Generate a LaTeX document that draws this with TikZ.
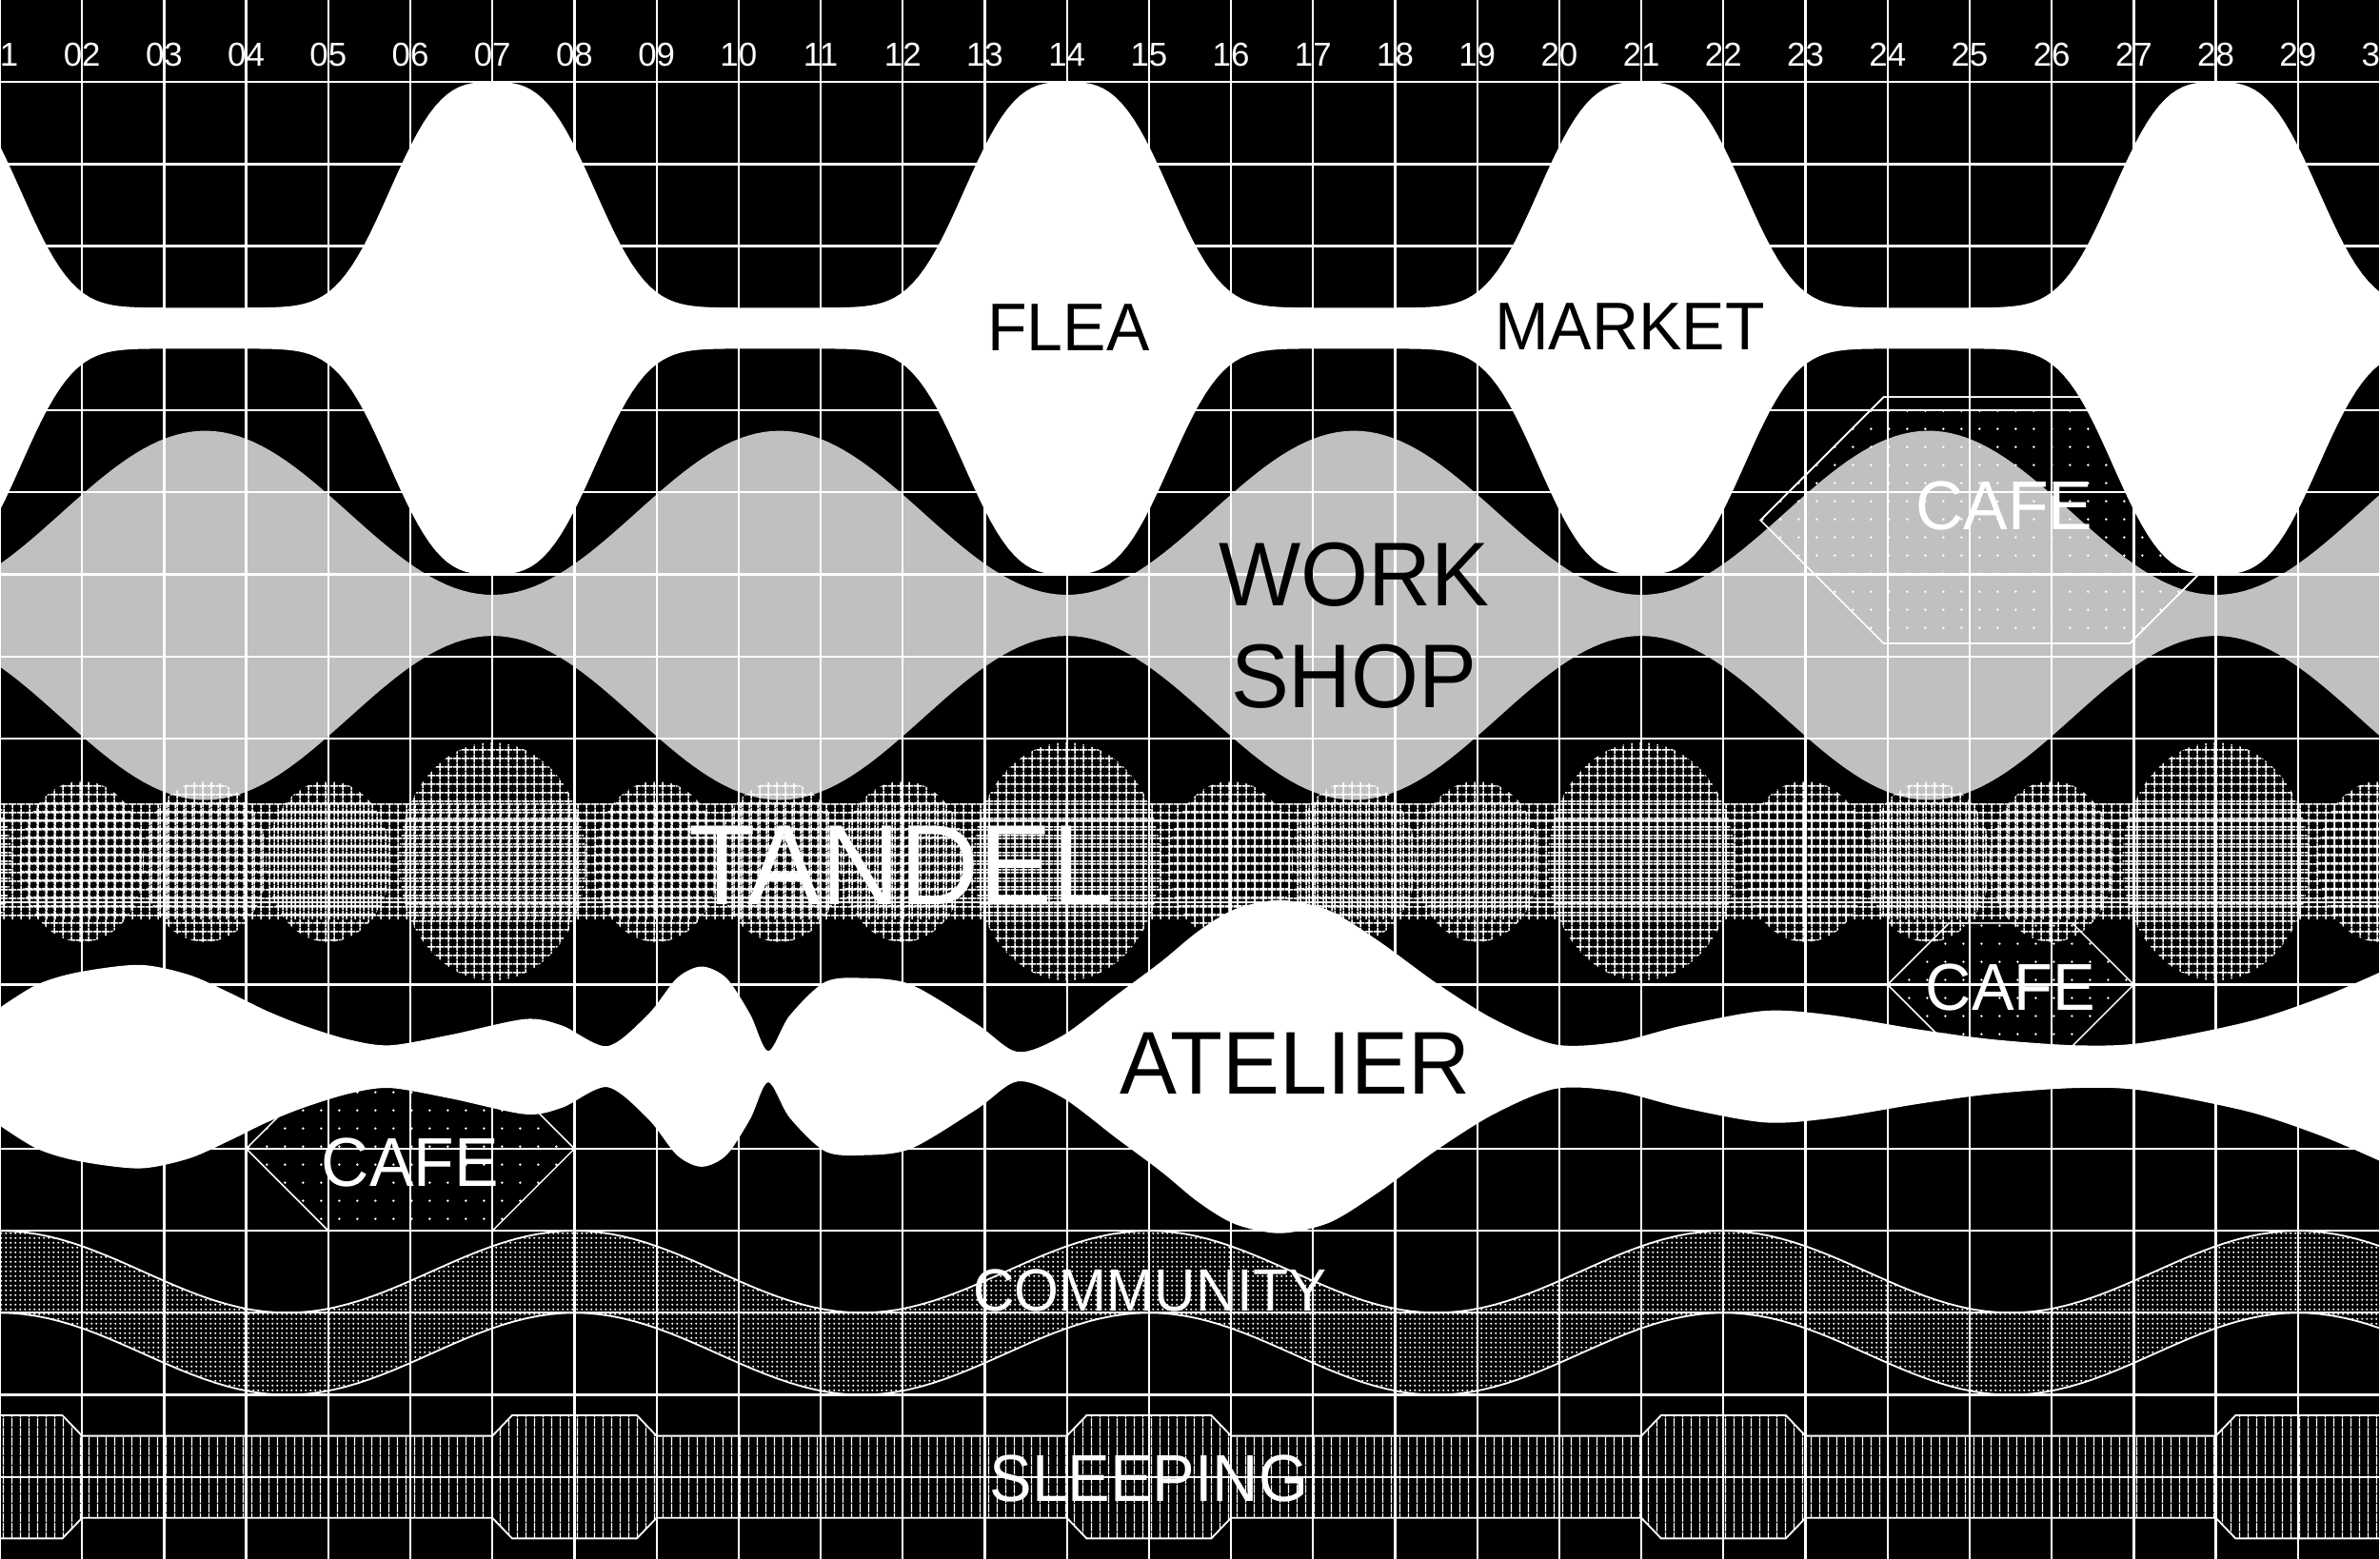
\documentclass[tikz,border=0pt]{standalone}
\usepackage{fontspec}
\setmainfont{Liberation Sans}
\usetikzlibrary{patterns}
\definecolor{wsgray}{RGB}{192,192,192}
\pgfdeclarepatternformonly{tgrid}{\pgfpointorigin}{\pgfqpoint{2.845pt}{2.845pt}}{\pgfqpoint{2.845pt}{2.845pt}}{%
  \pgfsetlinewidth{0.6pt}%
  \pgfpathmoveto{\pgfqpoint{0pt}{1.42pt}}\pgfpathlineto{\pgfqpoint{2.845pt}{1.42pt}}%
  \pgfpathmoveto{\pgfqpoint{1.42pt}{0pt}}\pgfpathlineto{\pgfqpoint{1.42pt}{2.845pt}}%
  \pgfusepath{stroke}}
\pgfdeclarepatternformonly{vlines}{\pgfpointorigin}{\pgfqpoint{3.13pt}{3.13pt}}{\pgfqpoint{3.13pt}{3.13pt}}{%
  \pgfsetlinewidth{0.5pt}%
  \pgfpathmoveto{\pgfqpoint{1.56pt}{0pt}}\pgfpathlineto{\pgfqpoint{1.56pt}{3.13pt}}%
  \pgfusepath{stroke}}
\pgfdeclarepatternformonly{fdots}{\pgfpointorigin}{\pgfqpoint{1.7pt}{1.7pt}}{\pgfqpoint{1.7pt}{1.7pt}}{%
  \pgfpathcircle{\pgfqpoint{0.85pt}{0.85pt}}{0.45pt}\pgfusepath{fill}}
\pgfdeclarepatternformonly{hdots}{\pgfpointorigin}{\pgfqpoint{6.4pt}{6.4pt}}{\pgfqpoint{6.4pt}{6.4pt}}{%
  \pgfpathcircle{\pgfqpoint{3.2pt}{3.2pt}}{0.45pt}\pgfusepath{fill}}
\begin{document}
\begin{tikzpicture}[x=1cm,y=-1cm,
  declare function={fq(\t)=abs(mod(\t+4.5,7)-3.5)/1.44; fg(\t)=exp(-fq(\t)*fq(\t)*fq(\t));},
  gl/.style={white,line width=0.75pt},
  hexshape/.style={draw=white,line width=0.5pt,pattern=hdots,pattern color=white},
  tg/.style={pattern=tgrid,pattern color=white},
  bt/.style={text=black,inner sep=0pt,xscale=0.96},
  wt/.style={text=white,inner sep=0pt,xscale=0.96},
  lab/.style={text=white,inner sep=0pt,font=\fontsize{11.5pt}{12pt}\selectfont}]
\useasboundingbox (0,0) rectangle (29,19);
\fill[black] (0,0) rectangle (29,19);

% WORKSHOP grey band
\fill[wsgray] plot[domain=0:29,samples=300] (\x,{6.25-cos(360*(\x-2.5)/7)})
  -- plot[domain=29:0,samples=300] (\x,{8.75+cos(360*(\x-2.5)/7)}) -- cycle;

% TANDEL hatched band
\fill[tg] (0,9.8) rectangle (29,11.2);
\foreach \c in {-1,6,13,20,27}
  \fill[tg] (\c,10.5) ellipse [x radius=1.14, y radius=1.45];
\foreach \c in {1,2.5,4,8,9.5,11,15,16.5,18,22,23.5,25,29}
  \fill[tg] (\c,10.5) ellipse [x radius=0.76, y radius=0.98];

% CAFE hexagons (dotted)
\path[hexshape] (21.45,6.34) -- (22.95,4.84) -- (25.95,4.84) -- (27.45,6.34) -- (25.95,7.84) -- (22.95,7.84) -- cycle;
\path[hexshape] (23,12) -- (23.75,11.25) -- (25.25,11.25) -- (26,12) -- (25.25,12.75) -- (23.75,12.75) -- cycle;
\path[hexshape] (3,14) -- (4,13) -- (6,13) -- (7,14) -- (6,15) -- (4,15) -- cycle;

% COMMUNITY ribbon
\fill[pattern=fdots,pattern color=white] plot[domain=0:29,samples=200] (\x,{15.5-0.5*cos(360*\x/7)})
  -- plot[domain=29:0,samples=200] (\x,{16.5-0.5*cos(360*\x/7)}) -- cycle;
\draw[white,line width=0.6pt] plot[domain=0:29,samples=200] (\x,{15.5-0.5*cos(360*\x/7)});
\draw[white,line width=0.6pt] plot[domain=0:29,samples=200] (\x,{16.5-0.5*cos(360*\x/7)});

% SLEEPING band
\path[pattern=vlines,pattern color=white,draw=white,line width=0.6pt]
  (0,17.25) -- (0.76,17.25) -- (1,17.5) -- (6,17.5) -- (6.24,17.25) -- (7.76,17.25) -- (8,17.5)
  -- (13,17.5) -- (13.24,17.25) -- (14.76,17.25) -- (15,17.5) -- (20,17.5) -- (20.24,17.25)
  -- (21.76,17.25) -- (22,17.5) -- (27,17.5) -- (27.24,17.25) -- (29,17.25) -- (29,18.75)
  -- (27.24,18.75) -- (27,18.5) -- (22,18.5) -- (21.76,18.75) -- (20.24,18.75) -- (20,18.5)
  -- (15,18.5) -- (14.76,18.75) -- (13.24,18.75) -- (13,18.5) -- (8,18.5) -- (7.76,18.75)
  -- (6.24,18.75) -- (6,18.5) -- (1,18.5) -- (0.76,18.75) -- (0,18.75) -- cycle;

% FLEA MARKET white band
\fill[white] plot[domain=0:29,samples=400] (\x,{3.75-2.75*fg(\x)})
  -- plot[domain=29:0,samples=400] (\x,{4.25+2.75*fg(\x)}) -- cycle;

% ATELIER white band
\fill[white] plot[smooth] coordinates {(0,12.28) (0.45,12.0) (0.95,11.85) (1.7,11.76) (2.3,11.88) (2.8,12.1) (3.25,12.32) (3.7,12.5) (4.25,12.67) (4.75,12.74) (5.5,12.61) (6.4,12.42) (6.85,12.5) (7.4,12.75) (7.9,12.36) (8.25,11.92) (8.55,11.78) (8.85,11.92) (9.14,12.36) (9.36,12.81) (9.62,12.38) (10.05,11.97) (10.5,11.92) (11.1,12.0) (11.9,12.48) (12.4,12.82) (12.95,12.62) (13.6,12.13) (14.15,11.72) (14.6,11.35) (15.05,11.08) (15.6,10.97) (16.2,11.1) (16.8,11.47) (17.5,11.98) (18.2,12.42) (18.95,12.73) (19.7,12.7) (20.5,12.5) (21.5,12.32) (22.3,12.37) (23.4,12.55) (24.3,12.67) (25.3,12.74) (26.1,12.71) (27.4,12.45) (28.3,12.15) (29,11.85)}
  -- plot[smooth] coordinates {(29,14.15) (28.3,13.85) (27.4,13.55) (26.1,13.29) (25.3,13.26) (24.3,13.33) (23.4,13.45) (22.3,13.63) (21.5,13.68) (20.5,13.5) (19.7,13.3) (18.95,13.27) (18.2,13.58) (17.5,14.02) (16.8,14.53) (16.2,14.9) (15.6,15.03) (15.05,14.92) (14.6,14.65) (14.15,14.28) (13.6,13.87) (12.95,13.38) (12.4,13.18) (11.9,13.52) (11.1,14.0) (10.5,14.08) (10.05,14.03) (9.62,13.62) (9.36,13.19) (9.14,13.64) (8.85,14.08) (8.55,14.22) (8.25,14.08) (7.9,13.64) (7.4,13.25) (6.85,13.5) (6.4,13.58) (5.5,13.39) (4.75,13.26) (4.25,13.33) (3.7,13.5) (3.25,13.68) (2.8,13.9) (2.3,14.12) (1.7,14.24) (0.95,14.15) (0.45,14.0) (0,13.72)} -- cycle;

% grid
\foreach \i in {0,...,29} \draw[gl] (\i,0) -- (\i,19);
\foreach \j in {1,...,18} \draw[gl] (0,\j) -- (29,\j);

% hexagon outline on top
\draw[white,line width=0.5pt] (21.45,6.34) -- (22.95,4.84) -- (25.95,4.84) -- (27.45,6.34) -- (25.95,7.84) -- (22.95,7.84) -- cycle;

% column labels
\foreach \n in {1,...,30}
  \node[lab] (l\n) at (\n-1,0.667) {\ifnum\n<10 0\fi\n};

% texts
\node[bt,font=\fontsize{23.4pt}{24pt}\selectfont] (tflea) at (13.02,3.99) {FLEA};
\node[bt,font=\fontsize{23.4pt}{24pt}\selectfont] (tmarket) at (19.86,3.98) {MARKET};
\node[bt,font=\fontsize{31.4pt}{32pt}\selectfont] (twork) at (16.5,7.0) {WORK};
\node[bt,font=\fontsize{31.4pt}{32pt}\selectfont] (tshop) at (16.5,8.24) {SHOP};
\node[wt,font=\fontsize{24pt}{25pt}\selectfont] (tcafea) at (24.42,6.16) {CAFE};
\node[wt,font=\fontsize{39.6pt}{40pt}\selectfont] (ttandel) at (10.98,10.55) {TANDEL};
\node[bt,font=\fontsize{30.9pt}{31pt}\selectfont] (tatelier) at (15.78,12.96) {ATELIER};
\node[wt,font=\fontsize{23pt}{24pt}\selectfont] (tcafeb) at (24.5,12.03) {CAFE};
\node[wt,font=\fontsize{24pt}{25pt}\selectfont] (tcafec) at (5.0,14.17) {CAFE};
\node[wt,font=\fontsize{20.7pt}{21pt}\selectfont] (tcomm) at (14.01,15.73) {COMMUNITY};
\node[wt,font=\fontsize{23pt}{24pt}\selectfont] (tsleep) at (14.0,18.02) {SLEEPING};
\end{tikzpicture}
\end{document}
